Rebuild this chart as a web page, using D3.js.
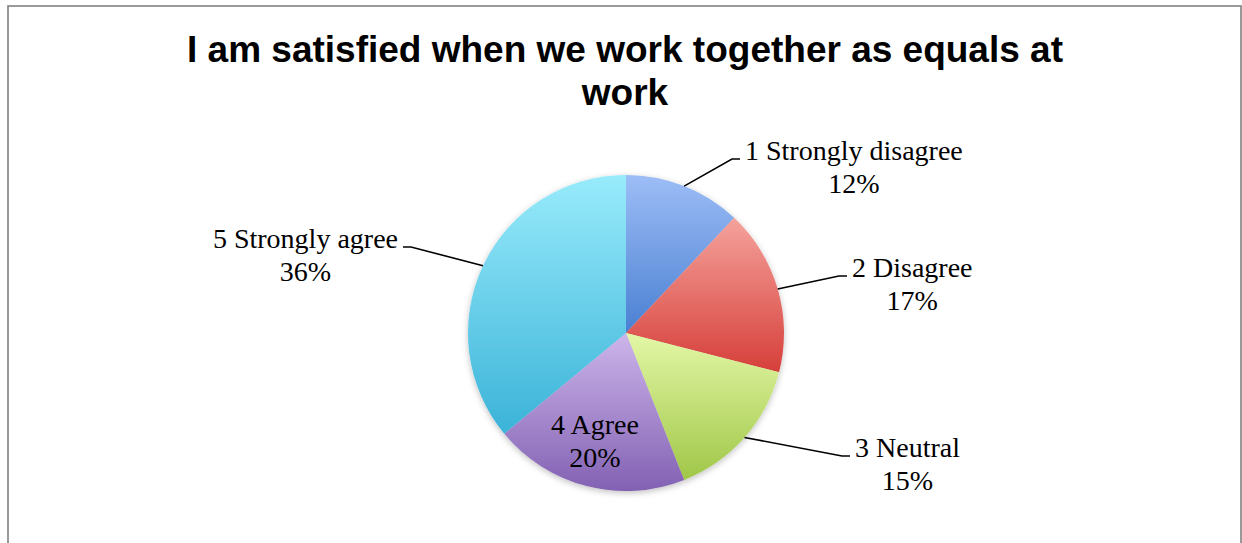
<!DOCTYPE html>
<html>
<head>
<meta charset="utf-8">
<script src="https://cdn.jsdelivr.net/npm/d3@7"></script>
<style>
  html, body { margin: 0; padding: 0; background: #fff; }
  svg { display: block; }
</style>
</head>
<body>
<svg id="chart" width="1242" height="543"></svg>
<script>
// Survey responses (share of respondents, %)
const categories = ["1 Strongly disagree", "2 Disagree", "3 Neutral", "4 Agree", "5 Strongly agree"];
const values = [12, 17, 15, 20, 36];
const titleLines = ["I am satisfied when we work together as equals at", "work"];

// Gradient stops per slice: light top, darker bottom
const lightColors = ["#9dbdf6", "#f5a29c", "#e3f7a6", "#cdb5ea", "#98ebfb"];
const darkColors  = ["#4a80d2", "#d63f3a", "#a0c748", "#8261b3", "#3bb3d8"];

const svg = d3.select("#chart");

// chart frame
svg.append("rect")
  .attr("x", 8).attr("y", 6)
  .attr("width", 1233).attr("height", 620)
  .attr("fill", "#fff")
  .attr("stroke", "#888").attr("stroke-width", 1.7);

// title
svg.append("g").selectAll("text")
  .data(titleLines).join("text")
  .attr("x", 625)
  .attr("y", (d, i) => 62 + i * 43)
  .attr("text-anchor", "middle")
  .attr("font-family", "'Liberation Sans', Arial, sans-serif")
  .attr("font-weight", "bold")
  .attr("font-size", 37)
  .attr("fill", "#000")
  .text(d => d);

const cx = 626, cy = 333, R = 158;

const defs = svg.append("defs");
defs.selectAll("linearGradient")
  .data(values).join("linearGradient")
  .attr("id", (d, i) => "grad" + i)
  .attr("x1", 0).attr("y1", 0).attr("x2", 0).attr("y2", 1)
  .call(g => {
    g.append("stop").attr("offset", "0%").attr("stop-color", (d, i) => lightColors[i]);
    g.append("stop").attr("offset", "100%").attr("stop-color", (d, i) => darkColors[i]);
  });

const shadow = defs.append("filter").attr("id", "soft")
  .attr("x", "-10%").attr("y", "-10%").attr("width", "120%").attr("height", "120%");
shadow.append("feDropShadow")
  .attr("dx", 0).attr("dy", 2).attr("stdDeviation", 3)
  .attr("flood-color", "#000").attr("flood-opacity", 0.25);

const pie = d3.pie().sort(null).value(d => d)(values);
const arc = d3.arc().innerRadius(0).outerRadius(R);

const pieG = svg.append("g").attr("transform", `translate(${cx},${cy})`);
pieG.append("g").attr("filter", "url(#soft)")
  .selectAll("path")
  .data(pie).join("path")
  .attr("d", arc)
  .attr("fill", (d, i) => `url(#grad${i})`);

// Label layout: side, anchor x of first line, first baseline
const labelLayout = [
  { side: "right", x: 745, y: 160 },
  { side: "right", x: 852, y: 277 },
  { side: "right", x: 855, y: 457 },
  { side: "inside", x: 595, y: 434 },
  { side: "left", x: 398, y: 248 }
];

const labelFont = "'Liberation Serif', 'Times New Roman', serif";
const labelSize = 28;
const lineGap = 33;

const labelsG = svg.append("g");
pie.forEach((p, i) => {
  const L = labelLayout[i];
  const g = labelsG.append("g");
  const anchor = L.side === "right" ? "start" : (L.side === "left" ? "end" : "middle");
  const t1 = g.append("text")
    .attr("x", L.x).attr("y", L.y)
    .attr("text-anchor", anchor)
    .attr("font-family", labelFont).attr("font-size", labelSize)
    .attr("fill", "#000")
    .text(categories[i]);
  const w = t1.node().getComputedTextLength();
  const mid = anchor === "start" ? L.x + w / 2 : (anchor === "end" ? L.x - w / 2 : L.x);
  g.append("text")
    .attr("x", mid).attr("y", L.y + lineGap)
    .attr("text-anchor", "middle")
    .attr("font-family", labelFont).attr("font-size", labelSize)
    .attr("fill", "#000")
    .text(values[i] + "%");

  // leader line from the slice's outer mid-arc to the label
  if (L.side !== "inside") {
    const a = (p.startAngle + p.endAngle) / 2;
    const sx = cx + R * Math.sin(a), sy = cy - R * Math.cos(a);
    const dir = L.side === "right" ? 1 : -1;
    const ex = L.x - dir * 5, ey = L.y - 1;
    const kx = ex - dir * 8;
    labelsG.append("path")
      .attr("d", d3.line()([[sx, sy], [kx, ey], [ex, ey]]))
      .attr("fill", "none")
      .attr("stroke", "#000")
      .attr("stroke-width", 1.6);
  }
});
</script>
</body>
</html>
